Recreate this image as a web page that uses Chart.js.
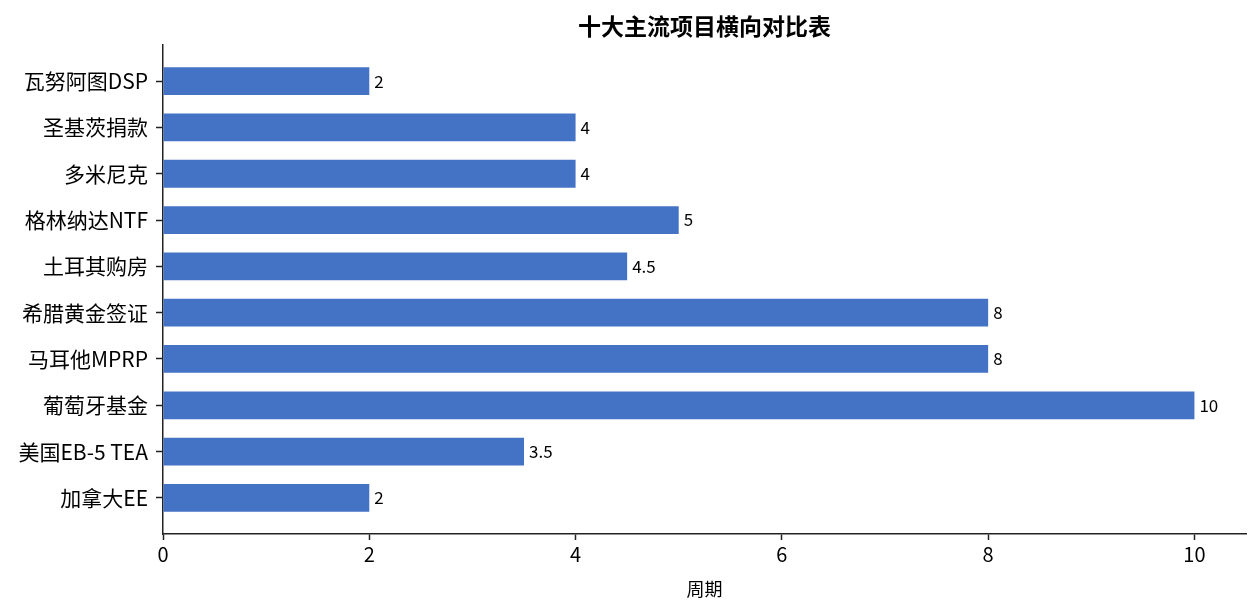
<!DOCTYPE html>
<html>
<head>
<meta charset="utf-8">
<script src="https://cdn.jsdelivr.net/npm/chart.js@4/dist/chart.umd.min.js"></script>
<style>
  html, body { margin: 0; padding: 0; background: #fff; }
  #wrap { width: 1260px; height: 615px; }
</style>
</head>
<body>
<div id="wrap"><canvas id="c" width="1260" height="615"></canvas></div>
<script>
const chartTitle = '十大主流项目横向对比表';
const xAxisLabel = '周期';
const categories = ['瓦努阿图DSP', '圣基茨捐款', '多米尼克', '格林纳达NTF', '土耳其购房', '希腊黄金签证', '马耳他MPRP', '葡萄牙基金', '美国EB-5 TEA', '加拿大EE'];
const periods = [2, 4, 4, 5, 4.5, 8, 8, 10, 3.5, 2];
const xTicks = [0, 2, 4, 6, 8, 10];

const FONT = '"Noto Sans CJK SC", "Noto Sans", sans-serif';
const INK = '#222222';

const labelPlugin = {
  id: 'barLabels',
  afterDatasetsDraw(chart) {
    const ctx = chart.ctx;
    const meta = chart.getDatasetMeta(0);
    ctx.save();
    ctx.font = '17px ' + FONT;
    ctx.fillStyle = '#000';
    ctx.textAlign = 'left';
    ctx.textBaseline = 'middle';
    meta.data.forEach((bar, i) => {
      ctx.fillText(String(periods[i]), bar.x + 5, bar.y);
    });
    ctx.restore();
  }
};

const titlePlugin = {
  id: 'areaTitle',
  afterDraw(chart) {
    const ctx = chart.ctx;
    const a = chart.chartArea;
    ctx.save();
    ctx.font = 'bold 23px ' + FONT;
    ctx.fillStyle = '#000';
    ctx.textAlign = 'center';
    ctx.textBaseline = 'middle';
    ctx.fillText(chartTitle, (a.left + a.right) / 2, 26);
    ctx.restore();
  }
};

new Chart(document.getElementById('c'), {
  type: 'bar',
  data: {
    datasets: [{
      data: periods.map((v, i) => ({ x: v, y: i })),
      backgroundColor: '#4472C4',
      borderWidth: 0,
      categoryPercentage: 1,
      barPercentage: 0.6
    }]
  },
  options: {
    indexAxis: 'y',
    responsive: false,
    animation: false,
    layout: { padding: { top: 45, right: 14, left: 0, bottom: 0 } },
    plugins: {
      legend: { display: false },
      tooltip: { enabled: false },
      title: { display: false }
    },
    scales: {
      x: {
        type: 'linear',
        min: 0,
        max: 10.5,
        afterBuildTicks: (s) => { s.ticks = xTicks.map(v => ({ value: v })); },
        afterFit: (s) => { s.height = 81; },
        grid: { drawOnChartArea: false, drawTicks: true, tickLength: 6, color: INK, tickWidth: 1.5 },
        border: { display: true, color: INK, width: 1.5 },
        ticks: { color: '#000', font: { family: FONT, size: 20 }, padding: 2, maxRotation: 0 },
        title: { display: true, text: xAxisLabel, color: '#000', font: { family: FONT, size: 18 }, padding: { top: 15, bottom: 15 } }
      },
      y: {
        type: 'linear',
        reverse: true,
        offset: false,
        min: -0.78,
        max: 9.78,
        afterBuildTicks: (s) => { s.ticks = categories.map((_, i) => ({ value: i })); },
        afterFit: (s) => { s.width = 163; },
        grid: { offset: false, drawOnChartArea: false, drawTicks: true, tickLength: 7, color: INK, tickWidth: 1.5 },
        border: { display: true, color: INK, width: 1.5 },
        ticks: {
          color: '#000',
          font: { family: FONT, size: 21 },
          padding: 8,
          callback: (v) => categories[v]
        }
      }
    }
  },
  plugins: [labelPlugin, titlePlugin]
});
</script>
</body>
</html>
